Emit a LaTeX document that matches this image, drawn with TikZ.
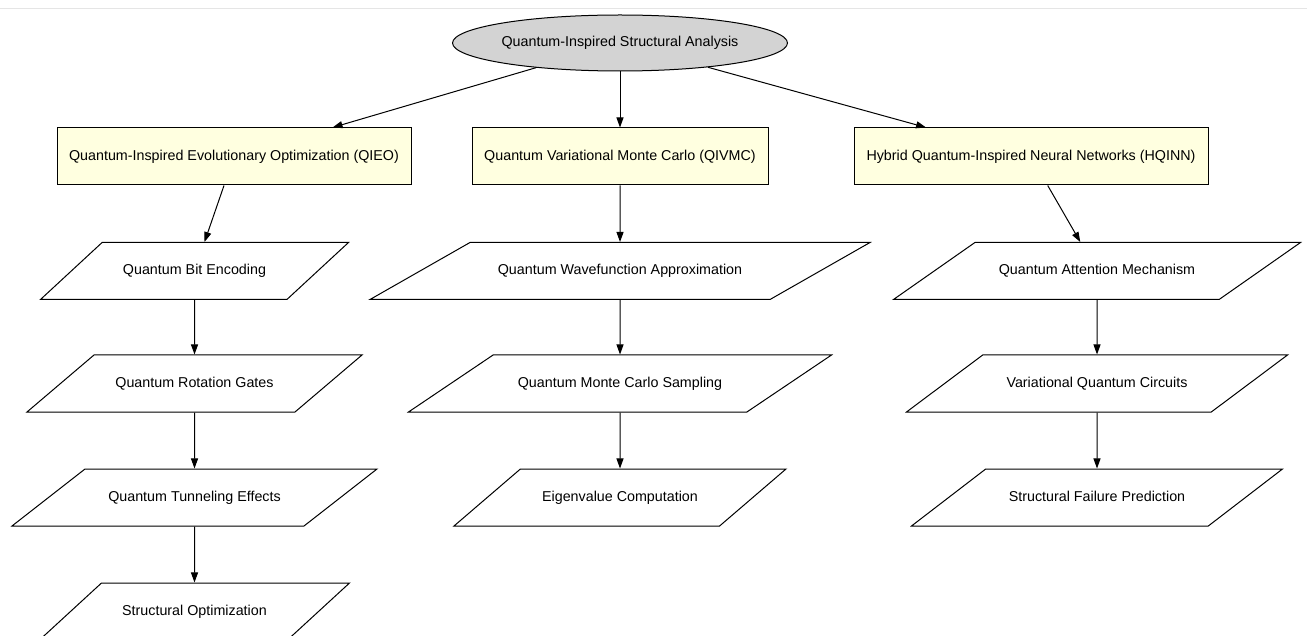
\documentclass[tikz,border=0pt]{standalone}
\usepackage{fontspec}
\setmainfont{Liberation Sans}
\usetikzlibrary{shapes.geometric}
\usetikzlibrary{arrows.meta}

\definecolor{rootgray}{HTML}{D3D3D3}
\definecolor{methodyellow}{HTML}{FFFFE0}

\tikzset{
    root/.style={ellipse, draw, fill=rootgray, minimum width=332pt, minimum height=56pt, inner sep=0pt},
    method/.style={rectangle, draw, fill=methodyellow, minimum width=#1pt, minimum height=57pt, inner sep=2pt},
    flow/.style={trapezium, draw, fill=white, trapezium stretches body, minimum width=#1pt,
        text height=11pt, text depth=3pt, inner xsep=2pt, inner ysep=21.5pt,
        trapezium left angle={atan(285/#1)}, trapezium right angle={180-atan(285/#1)}},
    link/.style={-{Triangle[length=10pt,width=7pt]}}
}

\begin{document}
\begin{tikzpicture}[x=1pt, y=-1pt, line width=1pt, font=\fontsize{14.3}{17}\selectfont]
            % Define the column positions
            \def\xl{194.5}  % left column
            \def\xm{620}  % middle column
            \def\xr{1097}  % right column

            \useasboundingbox (0,0) rectangle (1307,636);
            \draw[black!10, line width=0.8pt] (0,8) -- (1307,8);

            % Draw the root and the three methods
            \node[root] (qsa) at (\xm,43) {Quantum-Inspired Structural Analysis};
            \node[method=354] (qieo) at (234,156.5) {Quantum-Inspired Evolutionary Optimization (QIEO)};
            \node[method=296] (qivmc) at (\xm,156.5) {Quantum Variational Monte Carlo (QIVMC)};
            \node[method=354] (hqinn) at (1031,156.5) {Hybrid Quantum-Inspired Neural Networks (HQINN)};

            % Draw the steps of each method
            \node[flow=308] (qbe) at (\xl,271) {Quantum Bit Encoding};
            \node[flow=335] (qrg) at (\xl,383.5) {Quantum Rotation Gates};
            \node[flow=365] (qte) at (\xl,497.5) {Quantum Tunneling Effects};
            \node[flow=310] (so) at (\xl,611.5) {Structural Optimization};

            \node[flow=500] (qwa) at (\xm,271) {Quantum Wavefunction Approximation};
            \node[flow=423] (qmcs) at (\xm,383.5) {Quantum Monte Carlo Sampling};
            \node[flow=332] (ec) at (\xm,497.5) {Eigenvalue Computation};

            \node[flow=407] (qam) at (\xr,271) {Quantum Attention Mechanism};
            \node[flow=381] (vqc) at (\xr,383.5) {Variational Quantum Circuits};
            \node[flow=371] (sfp) at (\xr,497.5) {Structural Failure Prediction};

            % Draw the links
            \draw[link] (qsa) -- (qieo);
            \draw[link] (qsa) -- (qivmc);
            \draw[link] (qsa) -- (hqinn);

            \draw[link] (qieo) -- (qbe);
            \draw[link] (qbe) -- (qrg);
            \draw[link] (qrg) -- (qte);
            \draw[link] (qte) -- (so);

            \draw[link] (qivmc) -- (qwa);
            \draw[link] (qwa) -- (qmcs);
            \draw[link] (qmcs) -- (ec);

            \draw[link] (hqinn) -- (qam);
            \draw[link] (qam) -- (vqc);
            \draw[link] (vqc) -- (sfp);

        \end{tikzpicture}
\end{document}
